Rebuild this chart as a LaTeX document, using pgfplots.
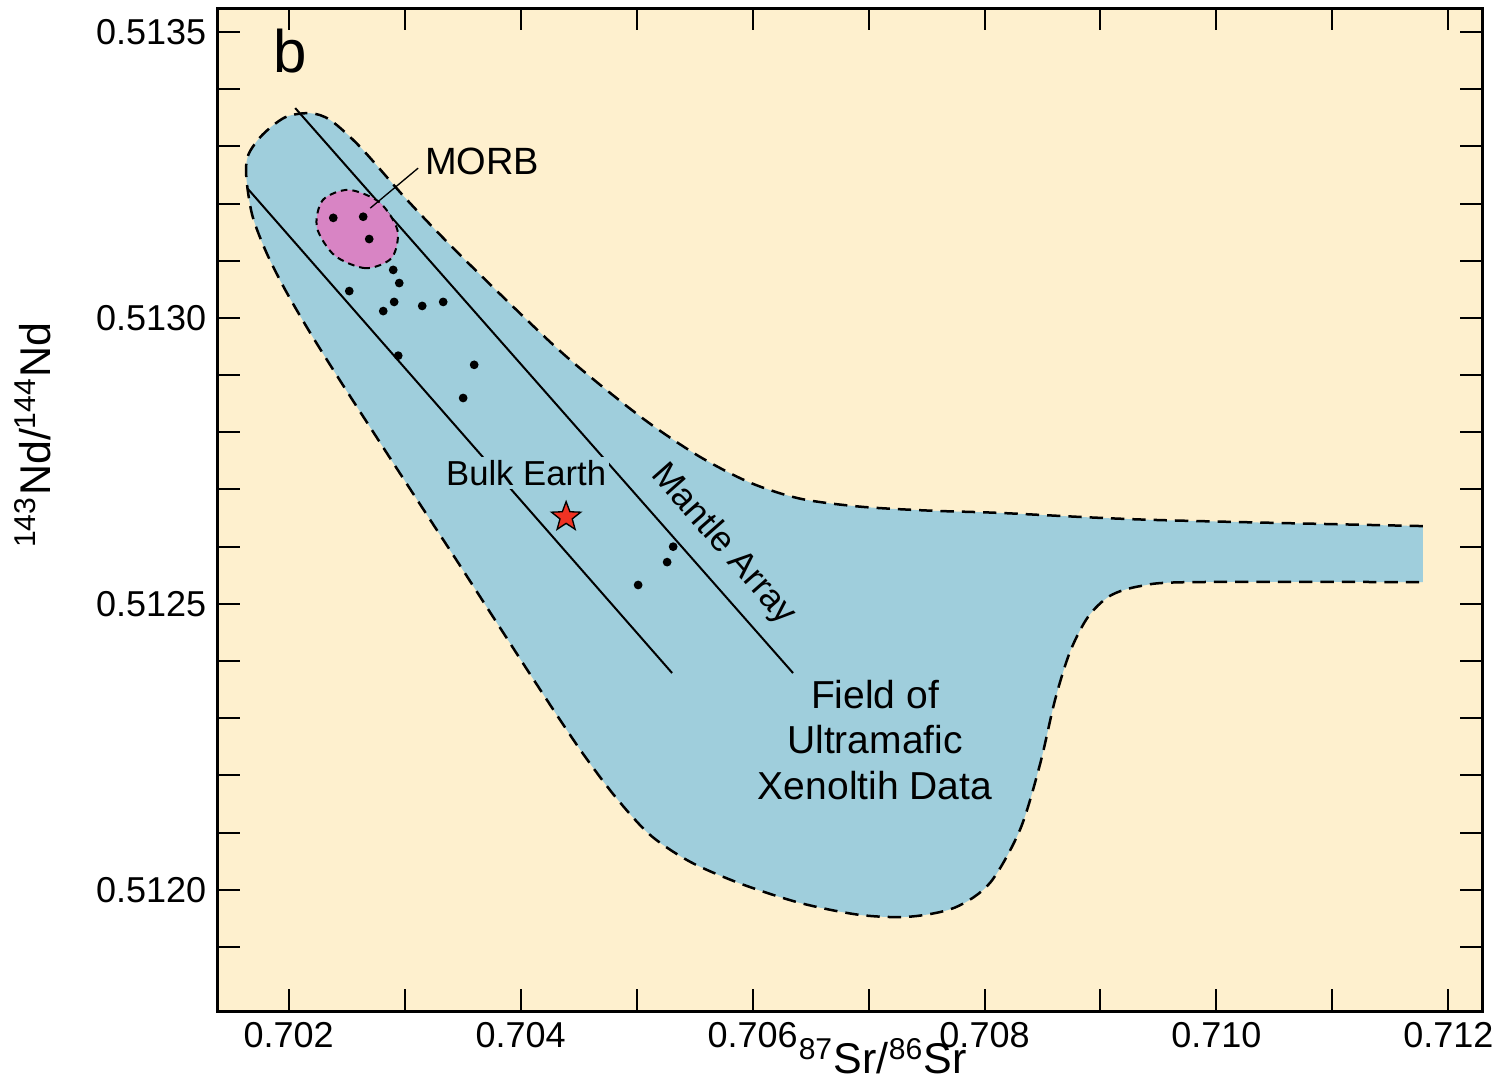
\documentclass[border=0pt]{standalone}
\usepackage{fontspec}
\setmainfont{Liberation Sans}
\usepackage{pgfplots}
\pgfplotsset{compat=1.18}
\usetikzlibrary{calc}

\definecolor{bgcream}{RGB}{254,240,206}
\definecolor{fieldblue}{RGB}{159,206,220}
\definecolor{morbpink}{RGB}{216,132,196}
\definecolor{starred}{RGB}{240,50,35}

% filled five-pointed star
\pgfdeclareplotmark{fstar}{%
  \pgfpathmoveto{\pgfpointpolar{90}{\pgfplotmarksize}}%
  \pgfpathlineto{\pgfpointpolar{126}{0.42\pgfplotmarksize}}%
  \pgfpathlineto{\pgfpointpolar{162}{\pgfplotmarksize}}%
  \pgfpathlineto{\pgfpointpolar{198}{0.42\pgfplotmarksize}}%
  \pgfpathlineto{\pgfpointpolar{234}{\pgfplotmarksize}}%
  \pgfpathlineto{\pgfpointpolar{270}{0.42\pgfplotmarksize}}%
  \pgfpathlineto{\pgfpointpolar{306}{\pgfplotmarksize}}%
  \pgfpathlineto{\pgfpointpolar{342}{0.42\pgfplotmarksize}}%
  \pgfpathlineto{\pgfpointpolar{18}{\pgfplotmarksize}}%
  \pgfpathlineto{\pgfpointpolar{54}{0.42\pgfplotmarksize}}%
  \pgfpathclose
  \pgfusepathqfillstroke
}

\begin{document}
\begin{tikzpicture}
\begin{axis}[
  name=main,
  scale only axis,
  width=379.2pt, height=300.9pt,
  xmin=0.70139, xmax=0.71229,
  ymin=0.511788, ymax=0.513542,
  axis background/.style={fill=bgcream},
  axis line style={line width=0.9pt},
  tick style={line width=0.6pt, black},
  major tick length=6.6pt, minor tick length=6.6pt,
  tick align=inside,
  xtick={0.702,0.704,0.706,0.708,0.710,0.712},
  minor xtick={0.703,0.705,0.707,0.709,0.711},
  ytick={0.5120,0.5125,0.5130,0.5135},
  minor ytick={0.5119,0.5121,0.5122,0.5123,0.5124,0.5126,0.5127,0.5128,0.5129,0.5131,0.5132,0.5133,0.5134},
  scaled ticks=false,
  xticklabel style={/pgf/number format/.cd,fixed,fixed zerofill,precision=3},
  yticklabel style={/pgf/number format/.cd,fixed,fixed zerofill,precision=4},
  /pgf/number format/assume math mode=true,
  tick label style={font=\fontsize{10.8}{13}\selectfont},
  xlabel={\textsuperscript{87}Sr/\textsuperscript{86}Sr},
  ylabel={\textsuperscript{143}Nd/\textsuperscript{144}Nd},
  label style={font=\fontsize{12.9}{15}\selectfont},
  xlabel style={at={(axis description cs:0.526,-0.0625)},anchor=base},
  ylabel style={at={(axis description cs:-0.1329,0.5743)},anchor=base},
]

% field of ultramafic xenolith data (right edge left open)
\addplot[smooth, fill=fieldblue, draw=black, line width=0.75pt, dash pattern=on 4pt off 2.4pt] coordinates {
  (0.711780,0.512636) (0.709427,0.512647) (0.708134,0.512659) (0.707530,0.512663)
  (0.706927,0.512670) (0.706409,0.512684) (0.705978,0.512712) (0.705547,0.512757)
  (0.705116,0.512815) (0.704685,0.512883) (0.704254,0.512958) (0.703478,0.513110)
  (0.703022,0.513206) (0.702616,0.513299) (0.702358,0.513346) (0.702185,0.513358)
  (0.701970,0.513351) (0.701772,0.513320) (0.701651,0.513285) (0.701634,0.513247)
  (0.701685,0.513180) (0.701806,0.513115) (0.701970,0.513049) (0.702185,0.512974)
  (0.702444,0.512890) (0.702746,0.512795) (0.703091,0.512687) (0.703461,0.512572)
  (0.703823,0.512458) (0.704168,0.512350) (0.704513,0.512245) (0.704815,0.512163)
  (0.705116,0.512096) (0.705461,0.512049) (0.705892,0.512011) (0.706409,0.511977)
  (0.706927,0.511956) (0.707358,0.511953) (0.707746,0.511969) (0.708047,0.512012)
  (0.708306,0.512105) (0.708478,0.512219) (0.708608,0.512332) (0.708737,0.512416)
  (0.708892,0.512477) (0.709082,0.512514) (0.709341,0.512531) (0.709772,0.512538)
  (0.711780,0.512538)
};

% mantle array
\addplot[black, line width=0.6pt] coordinates {(0.702056,0.513367) (0.706349,0.512379)};
\addplot[black, line width=0.6pt] coordinates {(0.701642,0.513227) (0.705306,0.512379)};

% MORB field
\addplot[smooth cycle, fill=morbpink, draw=black, line width=0.6pt, dash pattern=on 2pt off 1.5pt] coordinates {
  (0.702888,0.513105) (0.702664,0.513087) (0.702397,0.513109) (0.702243,0.513158)
  (0.702293,0.513206) (0.702517,0.513224) (0.702784,0.513202) (0.702938,0.513153)
};
\addplot[black, line width=0.4pt] coordinates {(0.702703,0.513192) (0.703116,0.513262)};

% samples
\addplot[only marks, mark=*, mark size=1.1pt, black] coordinates {
  (0.702384,0.513175) (0.702642,0.513177) (0.702694,0.513138) (0.702901,0.513084)
  (0.702953,0.513061) (0.702522,0.513047) (0.702909,0.513028) (0.702815,0.513012)
  (0.703151,0.513021) (0.703332,0.513028) (0.702944,0.512934) (0.703599,0.512918)
  (0.703504,0.512860) (0.705315,0.512600) (0.705263,0.512573) (0.705013,0.512533)
};

% bulk earth
\addplot[only marks, black, mark=fstar, mark size=4.6pt, mark options={fill=starred, draw=black, line width=0.4pt}] coordinates {(0.704392,0.512652)};

\node[anchor=base west, font=\fontsize{18}{20}\selectfont, inner sep=0pt] at (axis cs:0.701866,0.513430) {b};
\node[font=\fontsize{11.4}{13}\selectfont, inner sep=0pt] at (axis cs:0.703668,0.513273) {MORB};
\node[font=\fontsize{10.4}{12}\selectfont, fill=fieldblue, inner sep=1pt] at (axis cs:0.704047,0.512729) {Bulk Earth};
\node[font=\fontsize{10.6}{12}\selectfont, rotate=-48.6, inner sep=0pt] at (axis cs:0.705746,0.512603) {Mantle Array};
\node[font=\fontsize{11.7}{13.65}\selectfont, align=center, inner sep=0pt] at (axis cs:0.707056,0.512262) {Field of\\Ultramafic\\Xenoltih Data};
\end{axis}
\pgfresetboundingbox
\useasboundingbox ($(main.south west)+(-65.4pt,-21.3pt)$) rectangle ($(main.north east)+(5.4pt,2.4pt)$);
\end{tikzpicture}
\end{document}
